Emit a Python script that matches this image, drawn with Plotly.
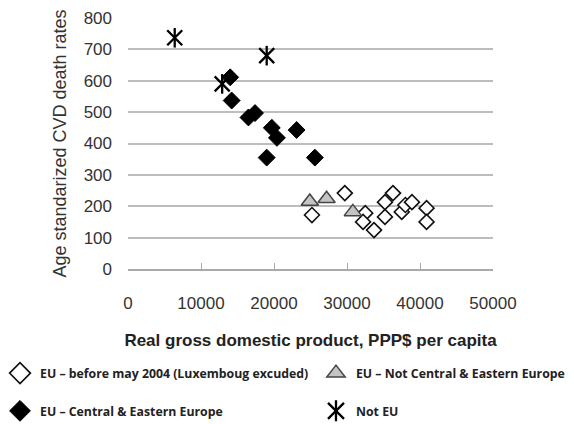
import plotly.graph_objects as go

# GDP per capita (PPP$) and age-standardised CVD death rates by country group
eu15_gdp = [25200, 29700, 32500, 32200, 33700, 35200, 35200, 36300, 37500, 38000, 38900, 40900, 40900]
eu15_cvd = [172, 242, 178, 150, 124, 166, 213, 242, 182, 204, 213, 194, 150]

noncee_gdp = [24900, 27200, 30800]
noncee_cvd = [215, 224, 182]

cee_gdp = [14000, 14200, 16500, 17400, 19700, 20400, 23100, 19000, 25600]
cee_cvd = [611, 537, 483, 497, 450, 418, 443, 355, 355]

noneu_gdp = [6400, 12900, 19000]
noneu_cvd = [737, 590, 680]

x_ticks = [0, 10000, 20000, 30000, 40000, 50000]
y_ticks = [0, 100, 200, 300, 400, 500, 600, 700, 800]

names = [
    "EU \u2013 before may 2004 (Luxemboug excuded)",
    "EU \u2013 Not Central & Eastern Europe",
    "EU \u2013 Central & Eastern Europe",
    "Not EU",
]

WHITE_D = dict(symbol="diamond", color="white", line=dict(color="#111", width=1.6))
GREY_T = dict(symbol="triangle-up", color="#c4c4c4", line=dict(color="#444", width=1.5))
BLACK_D = dict(symbol="diamond", color="black", line=dict(color="black", width=1))
STAR_X = dict(symbol="x-thin-open", color="black", line=dict(color="black", width=2.3))
STAR_V = dict(symbol="line-ns-open", color="black", line=dict(color="black", width=2.3))

fig = go.Figure()

# data series
fig.add_trace(go.Scatter(x=eu15_gdp, y=eu15_cvd, mode="markers", showlegend=False,
                         marker=dict(size=11.5, **WHITE_D)))
fig.add_trace(go.Scatter(x=noncee_gdp, y=noncee_cvd, mode="markers", showlegend=False,
                         marker=dict(size=15, **GREY_T)))
fig.add_trace(go.Scatter(x=cee_gdp, y=cee_cvd, mode="markers", showlegend=False,
                         marker=dict(size=13, **BLACK_D)))
fig.add_trace(go.Scatter(x=noneu_gdp, y=noneu_cvd, mode="markers", showlegend=False,
                         marker=dict(size=15, **STAR_X)))
fig.add_trace(go.Scatter(x=noneu_gdp, y=noneu_cvd, mode="markers", showlegend=False,
                         marker=dict(size=14, **STAR_V)))

# legend-only entries with larger key symbols, one legend box per slot
legend_styles = [WHITE_D, GREY_T, BLACK_D, STAR_X]
legend_ids = ["legend", "legend2", "legend3", "legend4"]
for name, style, lid in zip(names, legend_styles, legend_ids):
    fig.add_trace(go.Scatter(x=[None], y=[None], mode="markers", name=name,
                             legend=lid, marker=dict(size=17, **style)))
# vertical stroke of the "Not EU" key, stacked on the same slot
fig.add_trace(go.Scatter(x=[None], y=[None], mode="markers", name=" ",
                         legend="legend5", marker=dict(size=15, **STAR_V)))

legend_font = dict(family="Open Sans, sans-serif", size=12.3, color="#222", weight=700)
slots = {"legend": (0.0, 0.120), "legend2": (0.5505, 0.120),
         "legend3": (0.0, 0.031), "legend4": (0.5505, 0.031),
         "legend5": (0.5505, 0.031)}
legends = {
    lid: dict(orientation="h", xref="container", yref="container",
              x=sx, xanchor="left", y=sy, yanchor="middle",
              font=legend_font, bgcolor="rgba(0,0,0,0)")
    for lid, (sx, sy) in slots.items()
}

fig.update_layout(
    width=574, height=424,
    margin=dict(l=128, r=81, t=18, b=155, autoexpand=False),
    paper_bgcolor="white", plot_bgcolor="white",
    font=dict(family="Liberation Sans, Arial, sans-serif", size=17, color="#333"),
    xaxis=dict(
        range=[0, 50000], tickvals=x_ticks, ticktext=[str(v) for v in x_ticks],
        showgrid=False, zeroline=False, automargin=False,
        showline=True, linecolor="#aaa", linewidth=1.5,
        ticks="inside", ticklen=6, tickcolor="#aaa", tickwidth=1,
        ticklabelstandoff=18,
        title=dict(text="<b>Real gross domestic product, PPP$ per capita</b>",
                   font=dict(size=17, color="#222"), standoff=22),
    ),
    yaxis=dict(
        range=[0, 800], tickvals=y_ticks, automargin=False,
        showgrid=True, gridcolor="#bdbdbd", gridwidth=1.5,
        zeroline=False, showline=False, ticks="",
        ticklabelstandoff=15,
        title=dict(text="Age standarized CVD death rates",
                   font=dict(size=18, color="#333"), standoff=12),
    ),
    **legends,
)

fig.write_html("out.html")
